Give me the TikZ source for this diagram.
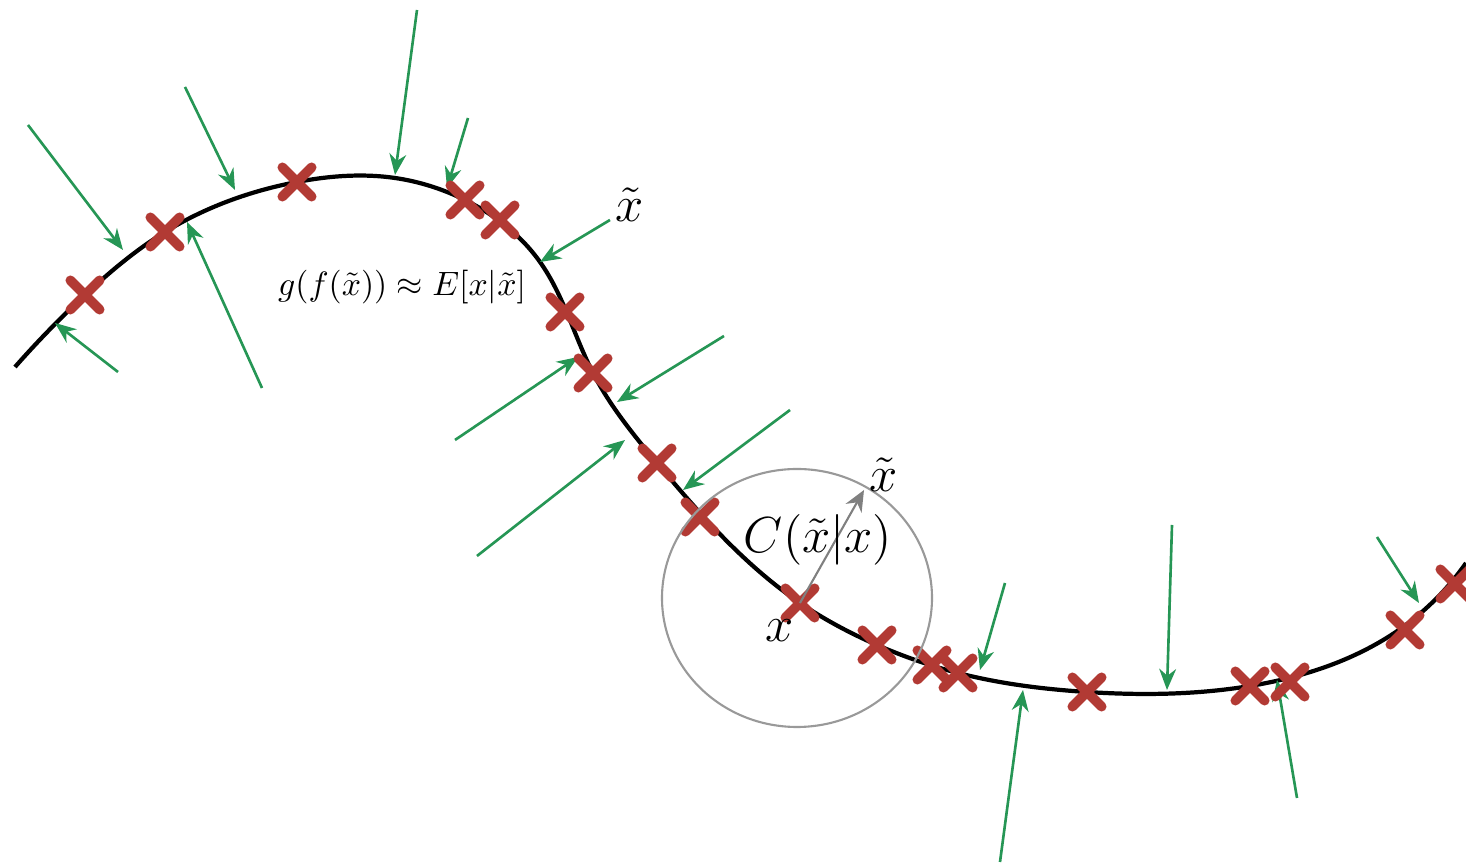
\documentclass[tikz,border=0pt]{standalone}
\usepackage{amsmath, amssymb}
\usepackage{xcolor}
\usetikzlibrary{arrows.meta, positioning, calc, shapes.misc, hobby}

\definecolor{crossred}{RGB}{178,58,52}
\definecolor{arrgreen}{RGB}{38,150,85}

\begin{document}
\begin{tikzpicture}[>=Stealth, x=0.01cm, y=-0.01cm,
    manifold/.style={line width=1.2pt, black},
    noise/.style={->, arrgreen, line width=0.75pt, >={Stealth[length=6pt, width=4.8pt]}},
    xmark/.style={draw=crossred, cross out, line width=2.8pt, line cap=round, minimum size=5.5pt, inner sep=0pt}]
        \useasboundingbox (0,0) rectangle (1466,865);
        % Data manifold
        \draw [manifold, use Hobby shortcut] (15,367) .. (85,295) .. (165,232)
            .. (297,182) .. (395,178) .. (465,200) .. (540,262) .. (593,373)
            .. (657,463) .. (800,603) .. (877,645) .. (958,673) .. (1087,692)
            .. (1250,686) .. (1403,627) .. (1466,563);
        % Corruption arrows
        \foreach \i/\t/\h in {1/{28,125}/{123,250}, 2/{185,87}/{235,190},
            3/{417,10}/{395,175}, 4/{468,118}/{447,188}, 5/{610,220}/{540,262},
            6/{118,372}/{55,323}, 7/{262,388}/{187,222}, 8/{455,440}/{578,357},
            9/{724,336}/{617,402}, 10/{477,556}/{625,440}, 11/{790,410}/{683,490},
            12/{1005,583}/{980,670}, 13/{1172,525}/{1167,690}, 14/{1377,537}/{1419,603},
            15/{1000,862}/{1023,690}, 16/{1297,798}/{1277,680}} {
            \coordinate (t\i) at (\t);
            \coordinate (h\i) at (\h);
            \draw [noise] (t\i) -- (h\i);
        }
        % Training points
        \foreach \i/\p in {1/{85,295}, 2/{165,232}, 3/{297,182}, 4/{465,200},
            5/{500,220}, 6/{565,312}, 7/{593,373}, 8/{657,463}, 9/{700,517},
            10/{800,603}, 11/{877,645}, 12/{932,665}, 13/{958,673}, 14/{1087,692},
            15/{1250,686}, 16/{1290,682}, 17/{1405,630}, 18/{1455,584}}
            \node [xmark] (c\i) at (\p) {};
        % Corruption neighbourhood
        \draw [gray!80, line width=0.6pt] (797,598) ellipse [x radius=135, y radius=129];
        \coordinate (xt) at (864,490);
        \draw [->, gray, line width=0.6pt, >={Stealth[length=6pt, width=5.2pt]}] (c10.center) -- (xt);
        % Labels
        \node [above right=-4pt and -2pt of xt] (lxt) {\Large $\tilde{x}$};
        \node [below left=-3pt and -6pt of c10] (lx) {\Large $x$};
        \node (lc) at (818,540) {\Large $C(\tilde{x}|x)$};
        \node [above right=-4pt and -2pt of t5] (lxt2) {\Large $\tilde{x}$};
        \node [scale=0.96] (lg) at (402,287) {$g(f(\tilde{x})) \approx E[x|\tilde{x}]$};
    \end{tikzpicture}
\end{document}
